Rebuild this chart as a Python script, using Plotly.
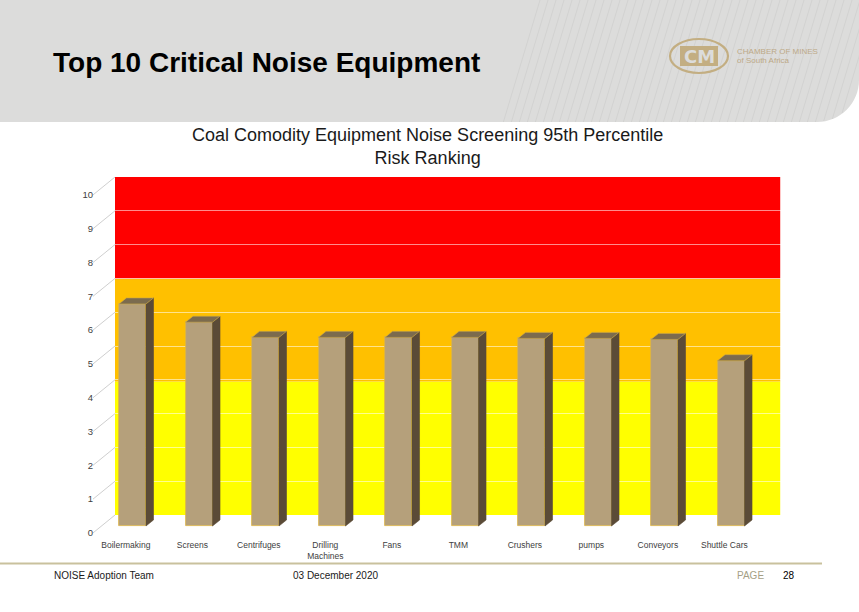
import plotly.graph_objects as go
import math

# ---------------- data ----------------
categories = ["Boilermaking", "Screens", "Centrifuges", "Drilling<br>Machines", "Fans",
              "TMM", "Crushers", "pumps", "Conveyors", "Shuttle Cars"]
risk_values = [6.57, 6.03, 5.58, 5.58, 5.58, 5.58, 5.55, 5.55, 5.52, 4.89]
y_ticks = [0, 1, 2, 3, 4, 5, 6, 7, 8, 9, 10]
band_edges = [0, 3.95, 7, 10]
band_colors = ["#ffff00", "#ffc000", "#ff0000"]

chart_title = "Coal Comodity Equipment Noise Screening 95th Percentile<br>Risk Ranking"
slide_title = "Top 10 Critical Noise Equipment"

# ---------------- geometry (pixels of the 859x612 page) ----------------
W, H = 859, 612
L, R, T, B = 90, 790, 177, 538          # plot area
PW, PH = R - L, B - T


def pxx(x):
    return (x - L) / PW


def pxy(y):
    return (B - y) / PH


# 3D look (in data units)
bar_w = 0.406
base = -0.325
dx, dy = 0.113, 0.178
lab_shift = 0.53
wall_x0, wall_x1 = -0.263, 9.74
xr = [-0.639, 9.887]
yr = [-0.68, 10.0]

n = len(categories)
xs = list(range(n))

fig = go.Figure()

# front faces
fig.add_trace(go.Bar(
    x=xs, y=risk_values, base=[base] * n, width=bar_w,
    marker=dict(color="#b5a07b", line=dict(color="#dcb445", width=0.8)),
    hoverinfo="skip", showlegend=False))

# side and top faces
sx, sy, tx, ty = [], [], [], []
for i, v in zip(xs, risk_values):
    top = base + v
    r = i + bar_w / 2
    l = i - bar_w / 2
    sx += [r, r + dx, r + dx, r, r, None]
    sy += [base, base + dy, top + dy, top, base, None]
    tx += [l, l + dx, r + dx, r, l, None]
    ty += [top, top + dy, top + dy, top, top, None]
fig.add_trace(go.Scatter(x=sx, y=sy, mode="lines", fill="toself", fillcolor="#5b4b37",
                         line=dict(color="#5b4b37", width=0.6), hoverinfo="skip", showlegend=False))
fig.add_trace(go.Scatter(x=tx, y=ty, mode="lines", fill="toself", fillcolor="#7b6b4e",
                         line=dict(color="#c9a84a", width=0.6), hoverinfo="skip", showlegend=False))

# connectors from the tick labels to the back wall (drawn on the label axis)
cx, cy = [], []
for v in y_ticks:
    cx += [-0.594, wall_x0, None]
    cy += [v, v + lab_shift, None]
fig.add_trace(go.Scatter(x=cx, y=cy, yaxis="y2", mode="lines",
                         line=dict(color="#cfcfcf", width=1), hoverinfo="skip", showlegend=False))

shapes = []
# risk bands on the back wall
for k, col in enumerate(band_colors):
    shapes.append(dict(type="rect", xref="x", yref="y", layer="below",
                       x0=wall_x0, x1=wall_x1, y0=band_edges[k], y1=band_edges[k + 1],
                       fillcolor=col, line=dict(width=0)))

# header band with rounded bottom-right corner
k = 0.5523
rc = 42
cxp, cyp = 859 - rc, 122 - rc
path = (f"M {pxx(0)},{pxy(0)} L {pxx(W)},{pxy(0)} L {pxx(W)},{pxy(cyp)} "
        f"C {pxx(W)},{pxy(cyp + k * rc)} {pxx(cxp + k * rc)},{pxy(122)} {pxx(cxp)},{pxy(122)} "
        f"L {pxx(0)},{pxy(122)} Z")
shapes.append(dict(type="path", xref="paper", yref="paper", path=path,
                   fillcolor="#dcdcdb", line=dict(width=0), layer="below"))


def inside(x, y):
    if y <= cyp:
        return True
    if x <= cxp:
        return y <= 122
    return (x - cxp) ** 2 + (y - cyp) ** 2 <= rc ** 2


# faint diagonal hatch on the header's right side
for x0 in range(540, 900, 8):
    yb = 0.0
    while yb < 122 and inside(x0 - 0.3 * (yb + 1), yb + 1):
        yb += 1
    if yb <= 2:
        continue
    shapes.append(dict(type="line", xref="paper", yref="paper",
                       x0=pxx(x0), y0=pxy(0), x1=pxx(x0 - 0.3 * yb), y1=pxy(yb),
                       line=dict(color="#d2d2d1", width=1), layer="below"))

# logo oval
shapes.append(dict(type="circle", xref="paper", yref="paper",
                   x0=pxx(670), x1=pxx(728), y0=pxy(73), y1=pxy(39),
                   line=dict(color="#c3ae82", width=2.2), fillcolor="rgba(0,0,0,0)"))
shapes.append(dict(type="rect", xref="paper", yref="paper",
                   x0=pxx(680), x1=pxx(718), y0=pxy(66), y1=pxy(46),
                   line=dict(width=0), fillcolor="#c3ae82"))

# footer rule
shapes.append(dict(type="line", xref="paper", yref="paper",
                   x0=pxx(0), x1=pxx(822), y0=pxy(563.5), y1=pxy(563.5),
                   line=dict(color="#c9c19d", width=2)))

annotations = [
    dict(text=f"<b>{slide_title}</b>", x=pxx(51), y=pxy(63), xref="paper", yref="paper",
         xanchor="left", yanchor="middle", showarrow=False,
         font=dict(family="Liberation Sans, Arial", size=28, color="#000000")),
    dict(text=chart_title, x=pxx(427), y=pxy(147), xref="paper", yref="paper",
         xanchor="center", yanchor="middle", showarrow=False,
         font=dict(family="Liberation Sans, Arial", size=18, color="#1a1a1a")),
    dict(text="<b>CM</b>", x=pxx(699), y=pxy(56), xref="paper", yref="paper",
         xanchor="center", yanchor="middle", showarrow=False,
         font=dict(family="DejaVu Sans", size=18, color="#dcdcdb")),
    dict(text="CHAMBER OF MINES", x=pxx(735), y=pxy(52), xref="paper", yref="paper",
         xanchor="left", yanchor="middle", showarrow=False,
         font=dict(family="Liberation Sans, Arial", size=8, color="#bca987")),
    dict(text="of South Africa", x=pxx(735), y=pxy(60), xref="paper", yref="paper",
         xanchor="left", yanchor="middle", showarrow=False,
         font=dict(family="Liberation Sans, Arial", size=8, color="#bca987")),
    dict(text="NOISE Adoption Team", x=pxx(52), y=pxy(575), xref="paper", yref="paper",
         xanchor="left", yanchor="middle", showarrow=False,
         font=dict(family="Liberation Sans, Arial", size=10, color="#1a1a1a")),
    dict(text="03 December 2020", x=pxx(291), y=pxy(575), xref="paper", yref="paper",
         xanchor="left", yanchor="middle", showarrow=False,
         font=dict(family="Liberation Sans, Arial", size=10, color="#1a1a1a")),
    dict(text="PAGE", x=pxx(735), y=pxy(575), xref="paper", yref="paper",
         xanchor="left", yanchor="middle", showarrow=False,
         font=dict(family="Liberation Sans, Arial", size=10, color="#a59f86")),
    dict(text="28", x=pxx(781), y=pxy(575), xref="paper", yref="paper",
         xanchor="left", yanchor="middle", showarrow=False,
         font=dict(family="Liberation Sans, Arial", size=10, color="#000000")),
]

fig.update_layout(
    width=W, height=H,
    margin=dict(l=L, r=W - R, t=T, b=H - B, pad=0),
    paper_bgcolor="#ffffff", plot_bgcolor="#ffffff",
    showlegend=False, bargap=0,
    shapes=shapes, annotations=annotations,
    xaxis=dict(range=xr, tickvals=[i - 0.1 for i in xs], ticktext=categories,
               showgrid=False, zeroline=False, showline=False, ticks="",
               tickfont=dict(family="Liberation Sans, Arial", size=8.5, color="#404040"),
               fixedrange=True),
    yaxis=dict(range=yr, tickvals=y_ticks, showticklabels=False, showgrid=True,
               gridcolor="rgba(255,255,255,0.55)", gridwidth=1, zeroline=False,
               showline=False, ticks="", fixedrange=True),
    yaxis2=dict(range=[yr[0] + lab_shift, yr[1] + lab_shift], overlaying="y", anchor="free",
                position=pxx(93), side="left", tickvals=y_ticks,
                ticktext=[str(v) for v in y_ticks], showgrid=False, zeroline=False,
                showline=False, ticks="",
                tickfont=dict(family="Liberation Sans, Arial", size=9.5, color="#404040"),
                fixedrange=True),
)

fig.write_html("out.html", config={"displayModeBar": False},
               post_script="document.body.style.margin='0px';document.body.style.overflow='hidden';")
